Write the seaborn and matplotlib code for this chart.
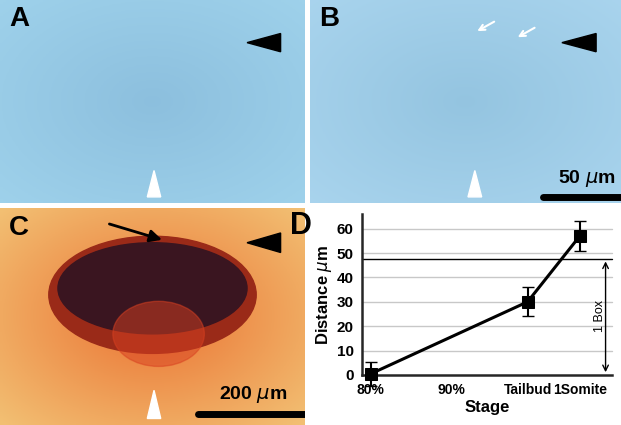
import numpy as np
import pandas as pd
import matplotlib.pyplot as plt
import matplotlib.patches as mpatches
import seaborn as sns

stages = ["80%", "90%", "Tailbud", "1Somite"]
stage_pos = [0, 1, 1.95, 2.6]
measured_stage = ["80%", "Tailbud", "1Somite"]
distance = [0.5, 30, 57]
err = [5.0, 6.0, 6.0]
box_level = 47.7

sns.set_style("white")
plt.rcParams["font.family"] = ["Liberation Sans", "DejaVu Sans"]
plt.rcParams["text.color"] = "black"
plt.rcParams["axes.labelcolor"] = "black"
plt.rcParams["xtick.color"] = "black"
plt.rcParams["ytick.color"] = "black"

W, H = 621, 425
fig = plt.figure(figsize=(W / 100, H / 100), dpi=100)

def ax_px(x0, y0, x1, y1):
    return fig.add_axes([x0 / W, 1 - y1 / H, (x1 - x0) / W, (y1 - y0) / H])

def gradient(c_center, c_edge, n=100):
    yy, xx = np.mgrid[-1:1:n * 1j, -1:1:n * 1j]
    r = np.clip(np.sqrt(xx ** 2 + yy ** 2) / 1.4, 0, 1)[..., None]
    return np.array(c_center) * (1 - r) + np.array(c_edge) * r

def arrowhead(ax, x, y, color, direction):
    if direction == "left":
        pts = [[x, y], [x + 0.11, y - 0.045], [x + 0.11, y + 0.045]]
    else:
        pts = [[x, y + 0.13], [x - 0.022, y], [x + 0.022, y]]
    ax.add_patch(mpatches.Polygon(pts, closed=True, color=color, transform=ax.transAxes))

# panel A
axA = ax_px(0, 0, 305, 203)
axA.imshow(gradient([0.55, 0.75, 0.87], [0.62, 0.82, 0.92]), extent=[0, 1, 0, 1], aspect="auto")
axA.set_axis_off()
axA.text(0.03, 0.97, "A", transform=axA.transAxes, fontsize=20, weight="bold", va="top")
arrowhead(axA, 0.81, 0.79, "black", "left")
arrowhead(axA, 0.505, 0.03, "white", "up")

# panel B
axB = ax_px(310, 0, 621, 203)
axB.imshow(gradient([0.58, 0.77, 0.88], [0.66, 0.83, 0.93]), extent=[0, 1, 0, 1], aspect="auto")
axB.set_axis_off()
axB.text(0.03, 0.97, "B", transform=axB.transAxes, fontsize=20, weight="bold", va="top")
arrowhead(axB, 0.81, 0.79, "black", "left")
arrowhead(axB, 0.53, 0.03, "white", "up")
for xs, ys in [(0.6, 0.9), (0.73, 0.87)]:
    axB.annotate("", xy=(xs - 0.07, ys - 0.06), xytext=(xs, ys), xycoords="axes fraction",
                 arrowprops=dict(arrowstyle="->", color="white", lw=1.5))
axB.text(0.89, 0.1, "50 $\\mu$m", transform=axB.transAxes, fontsize=14, weight="bold", ha="center")
axB.plot([0.75, 1.0], [0.03, 0.03], color="black", lw=5, transform=axB.transAxes)

# panel C
axC = ax_px(0, 208, 305, 425)
axC.imshow(gradient([0.92, 0.45, 0.2], [0.95, 0.75, 0.45]), extent=[0, 1, 0, 1], aspect="auto")
axC.add_patch(mpatches.Ellipse((0.5, 0.6), 0.68, 0.54, color="#9a2a18", transform=axC.transAxes))
axC.add_patch(mpatches.Ellipse((0.5, 0.63), 0.62, 0.42, color="#3a1520", transform=axC.transAxes))
axC.add_patch(mpatches.Ellipse((0.52, 0.42), 0.3, 0.3, color="#d84020", alpha=0.5, transform=axC.transAxes))
axC.set_axis_off()
axC.text(0.03, 0.97, "C", transform=axC.transAxes, fontsize=20, weight="bold", va="top")
axC.annotate("", xy=(0.54, 0.85), xytext=(0.35, 0.93), xycoords="axes fraction",
             arrowprops=dict(arrowstyle="-|>", color="black", lw=2, mutation_scale=18))
arrowhead(axC, 0.81, 0.84, "black", "left")
arrowhead(axC, 0.505, 0.03, "white", "up")
axC.text(0.83, 0.12, "200 $\\mu$m", transform=axC.transAxes, fontsize=14, weight="bold", ha="center")
axC.plot([0.65, 1.0], [0.05, 0.05], color="black", lw=5, transform=axC.transAxes)

# panel D
axD = ax_px(362, 214, 612, 375)
pos = dict(zip(stages, stage_pos))
df = pd.DataFrame({"x": [pos[s] for s in measured_stage], "y": distance, "e": err})
for v in range(10, 70, 10):
    axD.axhline(v, color="#c8c8c8", lw=1, zorder=0)
axD.axhline(box_level, color="black", lw=1, zorder=1)
sns.lineplot(data=df, x="x", y="y", ax=axD, color="black", lw=2.2, marker="s",
             markersize=9, markeredgecolor="black", zorder=3)
axD.errorbar(df["x"], df["y"], yerr=df["e"], fmt="none", ecolor="black", capsize=4,
             lw=1.5, clip_on=False, zorder=3)
for line in axD.lines:
    line.set_clip_on(False)
axD.annotate("", xy=(2.92, 0), xytext=(2.92, box_level),
             arrowprops=dict(arrowstyle="<->", color="black", lw=1))
axD.text(2.85, 24, "1 Box", rotation=90, ha="center", va="center", fontsize=9)
axD.set_xlim(-0.11, 3.0)
axD.set_ylim(0, 66)
axD.set_xticks(stage_pos, stages)
axD.set_yticks(range(0, 70, 10))
axD.tick_params(axis="both", labelsize=11, length=5, width=1.5, direction="inout")
axD.tick_params(axis="x", labelsize=10)
for lab in axD.get_xticklabels() + axD.get_yticklabels():
    lab.set_fontweight("bold")
for s in ["top", "right"]:
    axD.spines[s].set_visible(False)
for s in ["left", "bottom"]:
    axD.spines[s].set_linewidth(1.8)
axD.set_xlabel("Stage", fontsize=12, weight="bold", labelpad=2)
axD.set_ylabel("Distance $\\mu$m", fontsize=12, weight="bold", labelpad=2)
axD.text(-0.2, 1.02, "D", transform=axD.transAxes, fontsize=22, weight="bold", va="top", ha="right")

fig.savefig("out.png", dpi=100)
